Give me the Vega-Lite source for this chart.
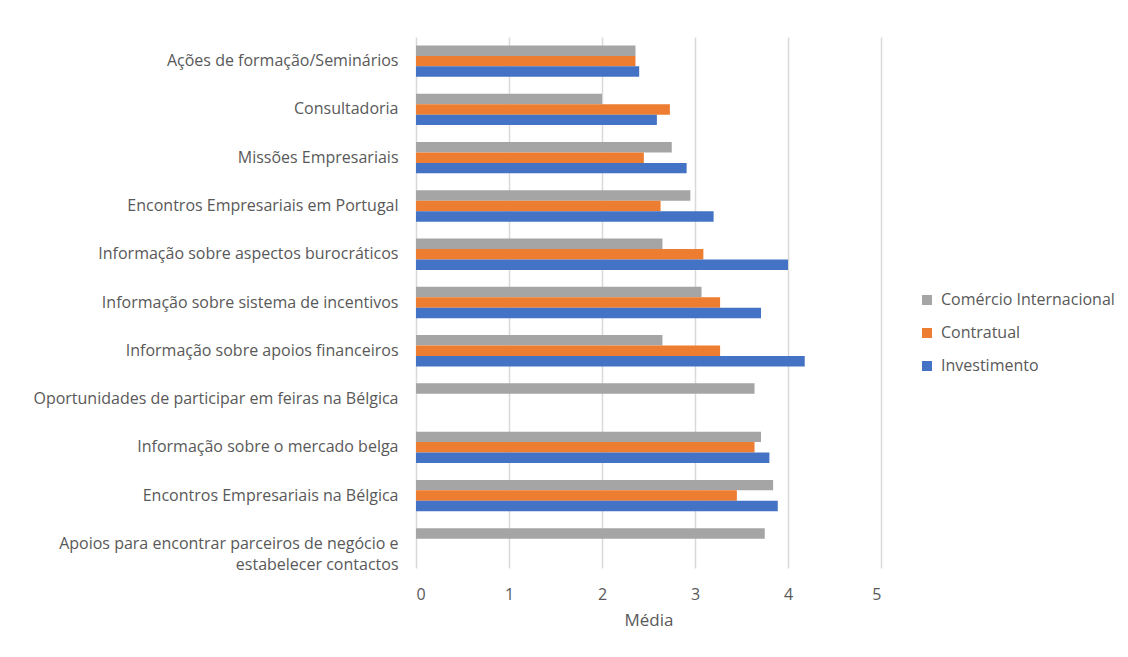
{
  "$schema": "https://vega.github.io/schema/vega-lite/v6.json",
  "autosize": {"type": "none"},
  "padding": {"left": 416, "top": 37, "right": 247, "bottom": 89},
  "width": 465,
  "height": 531,
  "background": "white",
  "config": {
    "font": "Open Sans",
    "view": {"stroke": null},
    "axis": {"labelColor": "#595959", "titleColor": "#595959", "labelFont": "Open Sans", "titleFont": "Open Sans"}
  },
  "data": {
    "values": [
      {"cat": "Ações de formação/Seminários", "serie": "Comércio Internacional", "v": 2.36},
      {"cat": "Ações de formação/Seminários", "serie": "Contratual", "v": 2.36},
      {"cat": "Ações de formação/Seminários", "serie": "Investimento", "v": 2.40},
      {"cat": "Consultadoria", "serie": "Comércio Internacional", "v": 2.0},
      {"cat": "Consultadoria", "serie": "Contratual", "v": 2.73},
      {"cat": "Consultadoria", "serie": "Investimento", "v": 2.59},
      {"cat": "Missões Empresariais", "serie": "Comércio Internacional", "v": 2.75},
      {"cat": "Missões Empresariais", "serie": "Contratual", "v": 2.45},
      {"cat": "Missões Empresariais", "serie": "Investimento", "v": 2.91},
      {"cat": "Encontros Empresariais em Portugal", "serie": "Comércio Internacional", "v": 2.95},
      {"cat": "Encontros Empresariais em Portugal", "serie": "Contratual", "v": 2.63},
      {"cat": "Encontros Empresariais em Portugal", "serie": "Investimento", "v": 3.20},
      {"cat": "Informação sobre aspectos burocráticos", "serie": "Comércio Internacional", "v": 2.65},
      {"cat": "Informação sobre aspectos burocráticos", "serie": "Contratual", "v": 3.09},
      {"cat": "Informação sobre aspectos burocráticos", "serie": "Investimento", "v": 4.0},
      {"cat": "Informação sobre sistema de incentivos", "serie": "Comércio Internacional", "v": 3.07},
      {"cat": "Informação sobre sistema de incentivos", "serie": "Contratual", "v": 3.27},
      {"cat": "Informação sobre sistema de incentivos", "serie": "Investimento", "v": 3.71},
      {"cat": "Informação sobre apoios financeiros", "serie": "Comércio Internacional", "v": 2.65},
      {"cat": "Informação sobre apoios financeiros", "serie": "Contratual", "v": 3.27},
      {"cat": "Informação sobre apoios financeiros", "serie": "Investimento", "v": 4.18},
      {"cat": "Oportunidades de participar em feiras na Bélgica", "serie": "Comércio Internacional", "v": 3.64},
      {"cat": "Informação sobre o mercado belga", "serie": "Comércio Internacional", "v": 3.71},
      {"cat": "Informação sobre o mercado belga", "serie": "Contratual", "v": 3.64},
      {"cat": "Informação sobre o mercado belga", "serie": "Investimento", "v": 3.80},
      {"cat": "Encontros Empresariais na Bélgica", "serie": "Comércio Internacional", "v": 3.84},
      {"cat": "Encontros Empresariais na Bélgica", "serie": "Contratual", "v": 3.45},
      {"cat": "Encontros Empresariais na Bélgica", "serie": "Investimento", "v": 3.89},
      {"cat": "Apoios para encontrar parceiros de negócio e estabelecer contactos", "serie": "Comércio Internacional", "v": 3.75}
    ]
  },
  "mark": {"type": "bar"},
  "encoding": {
    "y": {
      "field": "cat",
      "type": "nominal",
      "sort": null,
      "scale": {"paddingInner": 0.35, "paddingOuter": 0.175},
      "axis": {
        "title": null,
        "domain": false,
        "ticks": false,
        "labelFontSize": 16,
        "labelPadding": 18,
        "labelLimit": 420,
        "labelLineHeight": 21,
        "labelOverlap": false,
        "labelExpr": "datum.label == 'Apoios para encontrar parceiros de negócio e estabelecer contactos' ? ['Apoios para encontrar parceiros de negócio e', 'estabelecer contactos'] : datum.label"
      }
    },
    "yOffset": {"field": "serie", "type": "nominal", "sort": ["Comércio Internacional", "Contratual", "Investimento"]},
    "x": {
      "field": "v",
      "type": "quantitative",
      "scale": {"domain": [0, 5], "nice": false},
      "axis": {
        "title": "Média",
        "values": [0, 1, 2, 3, 4, 5],
        "labelOverlap": false,
        "domain": false,
        "ticks": false,
        "grid": true,
        "gridColor": "#D9D9D9",
        "gridWidth": 1.5,
        "labelFontSize": 16,
        "labelPadding": 18,
        "titleFontSize": 17,
        "titleFontWeight": "normal",
        "titlePadding": 10
      }
    },
    "color": {
      "field": "serie",
      "type": "nominal",
      "scale": {"domain": ["Comércio Internacional", "Contratual", "Investimento"], "range": ["#A5A5A5", "#ED7D31", "#4472C4"]},
      "legend": {
        "title": null,
        "orient": "none",
        "legendX": 503,
        "legendY": 255,
        "symbolType": "square",
        "symbolSize": 100,
        "symbolStrokeWidth": 0,
        "labelFontSize": 16,
        "labelLimit": 300,
        "labelColor": "#595959",
        "labelFont": "Open Sans",
        "rowPadding": 17,
        "labelOffset": 6
      }
    }
  }
}
